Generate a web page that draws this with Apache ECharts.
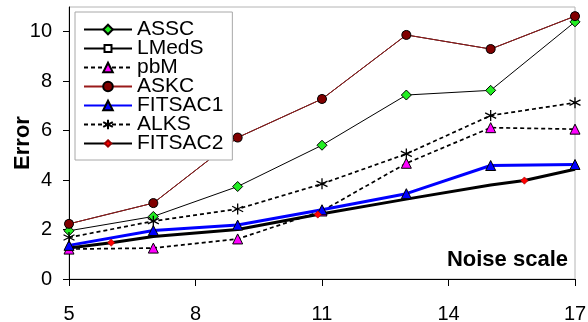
<!DOCTYPE html>
<html>
<head>
<meta charset="utf-8">
<script src="https://cdn.jsdelivr.net/npm/echarts@6/dist/echarts.min.js"></script>
<style>
  html, body { margin: 0; padding: 0; background: #fff; }
  #chart { width: 588px; height: 322px; }
</style>
</head>
<body>
<div id="chart"></div>
<script>
// Noise scale on the x axis
const noiseScale = [5, 7, 9, 11, 13, 15, 17];
const xTicks = [5, 8, 11, 14, 17];
const yTicks = [0, 2, 4, 6, 8, 10];

// Error per method
const assc   = [1.95, 2.53, 3.74, 5.41, 7.44, 7.63, 10.4];
const lmeds  = [2.23, 3.07, 5.72, 7.28, 9.87, 9.30, 10.63];
const pbm    = [1.21, 1.25, 1.62, 2.75, 4.68, 6.12, 6.06];
const askc   = [2.23, 3.07, 5.72, 7.28, 9.87, 9.30, 10.63];
const fitsac1 = [1.36, 1.96, 2.18, 2.80, 3.45, 4.59, 4.63];
const alks   = [1.68, 2.34, 2.83, 3.85, 5.06, 6.61, 7.13];

// FITSAC2 is traced on a finer set of noise levels; markers only where flagged
const fitsac2X = [5, 6, 7, 9, 10.9, 13, 15, 15.8, 17];
const fitsac2Y = [1.25, 1.47, 1.72, 2.0, 2.61, 3.23, 3.80, 3.98, 4.44];
const fitsac2Marked = [false, true, false, false, true, false, false, true, false];

const FONT = 'Liberation Sans, Arial, sans-serif';
const pairs = (xs, ys) => xs.map((x, i) => [x, ys[i]]);

// Marker shapes. The leading move-to points only widen the bounding box,
// which keeps the drawn shape smaller inside its symbol box.
const asterisk = 'path://M0,-10L0,10M-8.66,-5L8.66,5M-8.66,5L8.66,-5';
const smallSquare = 'path://M-5.5,-5.5M5.5,5.5M-4,-4L4,-4L4,4L-4,4Z';
const smallDiamond = 'path://M-6,-6M6,6M0,-4L4,0L0,4L-4,0Z';

const chart = echarts.init(document.getElementById('chart'), null, { renderer: 'canvas' });

const option = {
  animation: false,
  backgroundColor: '#ffffff',
  textStyle: { fontFamily: FONT },
  grid: {
    left: 69, right: 13, top: 7, bottom: 43,
    outerBoundsMode: 'none',
    show: true, borderColor: '#b4b4b4', borderWidth: 1, backgroundColor: 'transparent'
  },
  legend: {
    orient: 'vertical',
    left: 75, top: 12,
    padding: [7, 9, 6, 8],
    itemWidth: 48, itemHeight: 12, itemGap: -2,
    backgroundColor: '#ffffff',
    borderColor: '#a8a8a8', borderWidth: 1,
    textStyle: { fontFamily: FONT, fontSize: 21, color: '#000' },
    data: ['ASSC', 'LMedS', 'pbM', 'ASKC', 'FITSAC1', 'ALKS', 'FITSAC2']
  },
  xAxis: {
    type: 'value', min: 5, max: 17,
    axisLine: { onZero: false, lineStyle: { color: '#000', width: 1 } },
    axisTick: { show: true, length: 7, customValues: xTicks, lineStyle: { color: '#000' } },
    axisLabel: { customValues: xTicks, margin: 25, fontSize: 20, color: '#000', fontFamily: FONT },
    splitLine: { show: false }
  },
  yAxis: {
    type: 'value', min: 0, max: 11,
    name: 'Error', nameLocation: 'middle', nameGap: 35, nameMoveOverlap: false,
    nameTextStyle: { fontSize: 22, fontWeight: 'bold', color: '#000', fontFamily: FONT },
    axisLine: { show: true, lineStyle: { color: '#000', width: 1 } },
    axisTick: { show: true, length: 6, customValues: yTicks, lineStyle: { color: '#000' } },
    axisLabel: { customValues: yTicks, margin: 17, fontSize: 20, color: '#000', fontFamily: FONT },
    splitLine: { show: false }
  },
  graphic: [{
    type: 'text', x: 568, y: 260, z: 100,
    style: {
      text: 'Noise scale', align: 'right', verticalAlign: 'middle',
      font: 'bold 22px ' + FONT, fill: '#000'
    }
  }],
  series: [
    {
      name: 'ASSC', type: 'line', data: pairs(noiseScale, assc),
      symbol: 'diamond', symbolSize: 10,
      lineStyle: { color: '#000', width: 1 },
      itemStyle: { color: '#22ee22', borderColor: '#000', borderWidth: 1 }
    },
    {
      name: 'LMedS', type: 'line', data: pairs(noiseScale, lmeds),
      symbol: smallSquare, symbolSize: 9,
      lineStyle: { color: '#000', width: 1 },
      itemStyle: { color: '#fff', borderColor: '#000', borderWidth: 1 }
    },
    {
      name: 'pbM', type: 'line', data: pairs(noiseScale, pbm),
      symbol: 'triangle', symbolSize: 10,
      lineStyle: { color: '#000', width: 1.7, type: [4, 3] },
      itemStyle: { color: '#ff00ff', borderColor: '#000', borderWidth: 1 }
    },
    {
      name: 'ASKC', type: 'line', data: pairs(noiseScale, askc),
      symbol: 'circle', symbolSize: 9,
      lineStyle: { color: '#9a1a1a', width: 1 },
      itemStyle: { color: '#800000', borderColor: '#000', borderWidth: 1 }
    },
    {
      name: 'FITSAC1', type: 'line', data: pairs(noiseScale, fitsac1),
      symbol: 'triangle', symbolSize: 10,
      lineStyle: { color: '#0000ff', width: 3 },
      itemStyle: { color: '#0000ff', borderColor: '#000', borderWidth: 1 }
    },
    {
      name: 'ALKS', type: 'line', data: pairs(noiseScale, alks),
      symbol: asterisk, symbolSize: 11,
      lineStyle: { color: '#000', width: 1.7, type: [4, 3] },
      itemStyle: { color: 'transparent', borderColor: '#000', borderWidth: 1.3 }
    },
    {
      name: 'FITSAC2', type: 'line',
      data: fitsac2X.map((x, i) => ({
        value: [x, fitsac2Y[i]],
        symbol: fitsac2Marked[i] ? smallDiamond : 'none'
      })),
      symbol: smallDiamond, symbolSize: 11, showAllSymbol: true,
      lineStyle: { color: '#000', width: 3 },
      itemStyle: { color: '#ff0000', borderColor: '#900', borderWidth: 0.6 }
    }
  ]
};

chart.setOption(option);
</script>
</body>
</html>
